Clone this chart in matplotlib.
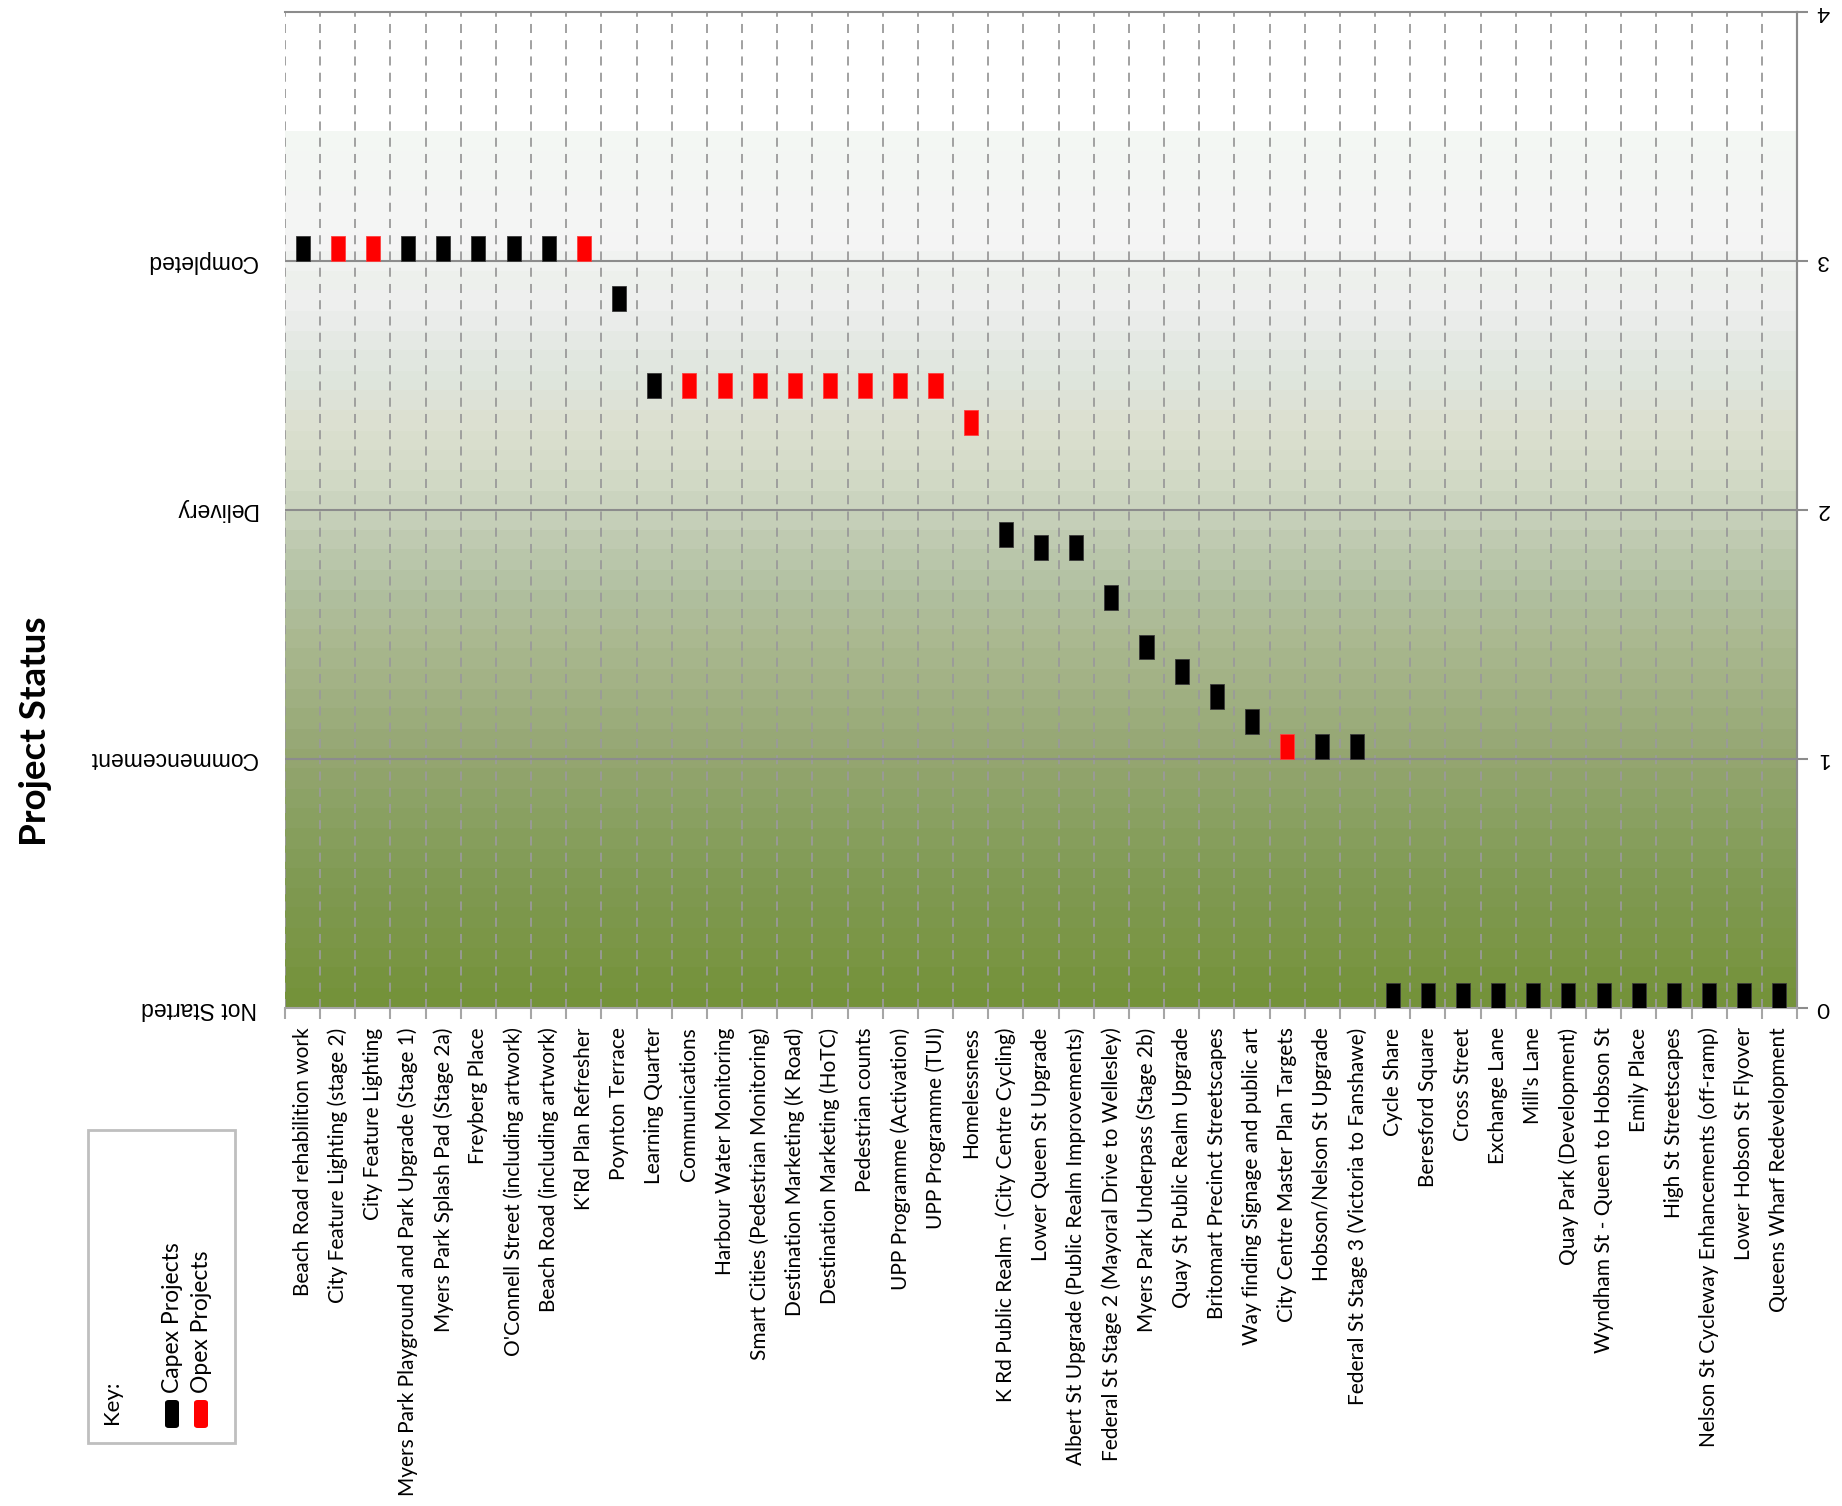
import numpy as np
import matplotlib.pyplot as plt
from matplotlib.colors import LinearSegmentedColormap
from matplotlib.patches import Rectangle, FancyBboxPatch

# Project list in chart order, with status score and funding type
projects = [
    "Beach Road rehabilition work",
    "City Feature Lighting (stage 2)",
    "City Feature Lighting",
    "Myers Park Playground and Park Upgrade (Stage 1)",
    "Myers Park Splash Pad (Stage 2a)",
    "Freyberg Place",
    "O'Connell Street (including artwork)",
    "Beach Road (including artwork)",
    "K'Rd Plan Refresher",
    "Poynton Terrace",
    "Learning Quarter",
    "Communications",
    "Harbour Water Monitoring",
    "Smart Cities (Pedestrian Monitoring)",
    "Destination Marketing (K Road)",
    "Destination Marketing (HoTC)",
    "Pedestrian counts",
    "UPP Programme (Activation)",
    "UPP Programme (TUI)",
    "Homelessness",
    "K Rd Public Realm - (City Centre Cycling)",
    "Lower Queen St Upgrade",
    "Albert St Upgrade (Public Realm Improvements)",
    "Federal St Stage 2 (Mayoral Drive to Wellesley)",
    "Myers Park Underpass (Stage 2b)",
    "Quay St Public Realm Upgrade",
    "Britomart Precinct Streetscapes",
    "Way finding Signage and public art",
    "City Centre Master Plan Targets",
    "Hobson/Nelson St Upgrade",
    "Federal St Stage 3 (Victoria to Fanshawe)",
    "Cycle Share",
    "Beresford Square",
    "Cross Street",
    "Exchange Lane",
    "Mill's Lane",
    "Quay Park (Development)",
    "Wyndham St - Queen to Hobson St",
    "Emily Place",
    "High St Streetscapes",
    "Nelson St Cycleway Enhancements (off-ramp)",
    "Lower Hobson St Flyover",
    "Queens Wharf Redevelopment",
]

status = [3.0, 3.0, 3.0, 3.0, 3.0, 3.0, 3.0, 3.0, 3.0,
          2.8,
          2.45, 2.45, 2.45, 2.45, 2.45, 2.45, 2.45, 2.45, 2.45,
          2.3,
          1.85, 1.8, 1.8, 1.6, 1.4, 1.3, 1.2, 1.1,
          1.0, 1.0, 1.0,
          0, 0, 0, 0, 0, 0, 0, 0, 0, 0, 0, 0]

kind = ["capex", "opex", "opex", "capex", "capex", "capex", "capex", "capex", "opex",
        "capex",
        "capex", "opex", "opex", "opex", "opex", "opex", "opex", "opex", "opex",
        "opex",
        "capex", "capex", "capex", "capex", "capex", "capex", "capex", "capex",
        "opex", "capex", "capex",
        "capex", "capex", "capex", "capex", "capex", "capex", "capex", "capex",
        "capex", "capex", "capex", "capex"]

status_names = ["Not Started", "Commencement", "Delivery", "Completed"]
kind_colors = {"capex": "#000000", "opex": "#FF0000"}
kind_edges = {"capex": "#3A3A3A", "opex": "#FF4040"}

W, H = 1842, 1506
fig = plt.figure(figsize=(W / 100, H / 100), dpi=100)
ax = fig.add_axes([285 / W, 1 - 1008 / H, (1797 - 285) / W, (1008 - 12) / H])

n = len(projects)
x = np.arange(n)

# banded background fill, olive at the bottom fading to white
bg_stops = [(0.0, "#74923A"), (0.19, "#7A9645"), (0.43, "#7F9950"), (0.71, "#88A060"),
            (1.0, "#95A672"), (1.24, "#A0B082"), (1.44, "#A9B78E"), (1.64, "#B0BF9E"),
            (1.84, "#BCC8AE"), (2.0, "#C8D2BC"), (2.16, "#D4DBC8"), (2.36, "#DCE0D0"),
            (2.52, "#DEE5DC"), (2.72, "#E6EAE5"), (2.84, "#EFEFEF"), (2.94, "#EDF0EC"),
            (3.12, "#F5F5F5"), (3.52, "#F3F7F3")]
top_bg = bg_stops[-1][0]
cmap = LinearSegmentedColormap.from_list("bg", [(v / top_bg, c) for v, c in bg_stops], N=44)
ax.imshow(np.linspace(0, 1, 600).reshape(-1, 1), cmap=cmap, origin="lower",
          extent=[-0.5, n - 0.5, 0, top_bg], aspect="auto", interpolation="nearest", zorder=0)
ax.set_facecolor("white")

for xb in np.arange(-0.5, n, 1.0):
    ax.axvline(xb, color="#9A9A9A", lw=1.3, ls=(0, (5, 4)), zorder=1)
for yl in [1, 2, 3]:
    ax.axhline(yl, color="#8C8C8C", lw=1.5, zorder=1)

ax.bar(x, 0.1, bottom=status, width=0.4,
       color=[kind_colors[k] for k in kind],
       edgecolor=[kind_edges[k] for k in kind], linewidth=0.6, zorder=3)

ax.set_xlim(-0.5, n - 0.5)
ax.set_ylim(0, 4)

for side in ["top", "right"]:
    ax.spines[side].set_color("#8C8C8C")
    ax.spines[side].set_linewidth(1.5)
ax.spines["bottom"].set_color("#A6A6A6")
ax.spines["bottom"].set_linewidth(1.5)
ax.spines["left"].set_visible(False)

ax.set_xticks(x)
ax.set_xticklabels(projects, rotation=90, va="top", ha="center",
                   fontsize=15, family="Lato")
ax.set_xticks(np.arange(-0.5, n, 1.0), minor=True)
ax.tick_params(axis="x", which="major", length=0, pad=14)
ax.tick_params(axis="x", which="minor", length=8, width=1.5, color="#A6A6A6", direction="out")

ax.set_yticks([0, 1, 2, 3])
ax.set_yticklabels(status_names, rotation=180, fontsize=16.5, family="Liberation Sans",
                   va="center")
ax.tick_params(axis="y", length=0, pad=20)

sec = ax.secondary_yaxis("right")
sec.set_yticks([0, 1, 2, 3, 4])
sec.set_yticklabels(["0", "1", "2", "3", "4"], rotation=180, fontsize=16, family="Lato",
                    va="center")
sec.tick_params(axis="y", length=8, width=1.5, color="#8C8C8C", pad=6)
sec.spines["right"].set_color("#8C8C8C")
sec.spines["right"].set_linewidth(1.5)

fig.text(35 / W, 1 - 731 / H, "Project Status", rotation=90, fontsize=26.5,
         fontweight="bold", family="Lato", ha="center", va="center")

# key box
fig.add_artist(Rectangle((88 / W, 1 - 1443 / H), (235 - 88) / W, (1443 - 1130) / H,
                         transform=fig.transFigure, fill=False,
                         edgecolor="#BFBFBF", lw=2))
fig.text(112 / W, 1 - 1424 / H, "Key:", rotation=90, fontsize=16, family="Lato",
         ha="center", va="bottom")
for cx, lbl, k in [(172, "Capex Projects", "capex"), (201, "Opex Projects", "opex")]:
    fig.add_artist(FancyBboxPatch((cx / W - 7 / W, 1 - 1428 / H), 14 / W, 28 / H,
                                  boxstyle="round,pad=0,rounding_size=0.002",
                                  transform=fig.transFigure,
                                  facecolor=kind_colors[k], edgecolor="none"))
    fig.text(cx / W, 1 - 1393 / H, lbl, rotation=90, fontsize=16.5, family="Lato",
             ha="center", va="bottom")

fig.savefig("out.png", dpi=100)
